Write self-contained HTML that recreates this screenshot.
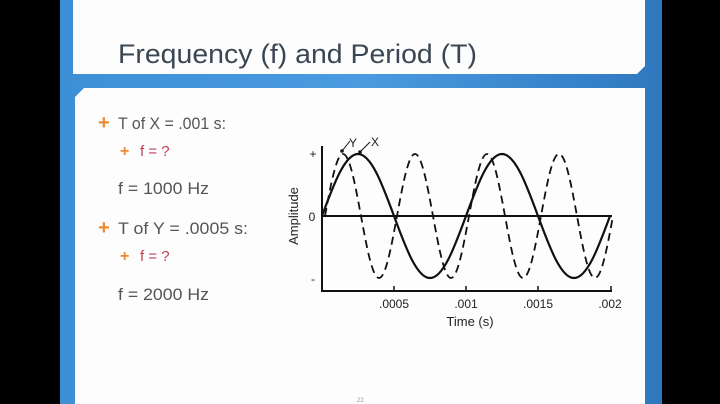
<!DOCTYPE html>
<html><head><meta charset="utf-8"><style>
html,body{margin:0;padding:0;background:#000;}
svg{display:block}
</style></head><body>
<svg width="720" height="404" viewBox="0 0 720 404" xmlns="http://www.w3.org/2000/svg" font-family="Liberation Sans, sans-serif">
<defs>
<linearGradient id="bg" x1="0" y1="0" x2="1" y2="0">
<stop offset="0" stop-color="#3d8fd6"/><stop offset="0.5" stop-color="#4a9be0"/><stop offset="1" stop-color="#2f78c0"/>
</linearGradient>
</defs>
<rect x="0" y="0" width="720" height="404" fill="#000"/>
<rect x="60" y="0" width="602" height="404" fill="url(#bg)"/>
<path d="M73 0 H645 V66 L637 74 H73 Z" fill="#fdfdfd"/>
<path d="M84 88 H645 V404 H75 V97 Z" fill="#fdfdfd"/>
<text x="118" y="63" font-size="27" fill="#3b4654" textLength="359" lengthAdjust="spacingAndGlyphs">Frequency (f) and Period (T)</text>
<g font-size="17" fill="#555">
<text x="98" y="129" fill="#f08a30" font-size="20" font-weight="bold">+</text>
<text x="118" y="129" textLength="108" lengthAdjust="spacingAndGlyphs">T of X = .001 s:</text>
<text x="120" y="156" fill="#f08a30" font-size="16" font-weight="bold">+</text>
<text x="140" y="156" fill="#c0405a" font-size="15">f = ?</text>
<text x="118" y="194" textLength="91" lengthAdjust="spacingAndGlyphs">f = 1000 Hz</text>
<text x="98" y="234" fill="#f08a30" font-size="20" font-weight="bold">+</text>
<text x="118" y="234" textLength="130" lengthAdjust="spacingAndGlyphs">T of Y = .0005 s:</text>
<text x="120" y="261" fill="#f08a30" font-size="16" font-weight="bold">+</text>
<text x="140" y="261" fill="#c0405a" font-size="15">f = ?</text>
<text x="118" y="300" textLength="91" lengthAdjust="spacingAndGlyphs">f = 2000 Hz</text>
</g>
<text x="357" y="402" font-size="6" fill="#999">22</text>
<g stroke="#111" fill="none">
<path d="M322 146 V291 H612" stroke-width="2"/>
<path d="M322 216 H612" stroke-width="2"/>
<path d="M394 286 V291 M466 286 V291 M538 286 V291 M611 286 V291" stroke-width="1.5"/>
<path stroke-width="2.2" d="M322 216 C334 183.4 345 154 358 154 S382 183.4 394 216 S417 278 430 278 S454 248.6 466 216 S489 154 502 154 S526 183.4 538 216 S561 278 574 278 S598 248.6 610 216"/>
<path stroke-width="1.8" stroke-dasharray="8,5" d="M325 216 C331 183.4 336.5 154 343 154 S355 183.4 361 216 S372.5 278 379 278 S391 248.6 397 216 S408.5 154 415 154 S427 183.4 433 216 S444.5 278 451 278 S463 248.6 469 216 S480.5 154 487 154 S499 183.4 505 216 S516.5 278 523 278 S535 248.6 541 216 S552.5 154 559 154 S571 183.4 577 216 S588.5 278 595 278 S607 248.6 613 216"/>
<path d="M342 151 L350 141 M360 152 L370 142" stroke-width="1"/>
</g>
<circle cx="342" cy="151" r="1.8" fill="#111"/>
<circle cx="360" cy="152" r="1.8" fill="#111"/>
<g font-size="12" fill="#222" text-anchor="middle">
<text x="313" y="158">+</text>
<text x="312" y="221">0</text>
<text x="313" y="283">-</text>
<text x="353" y="147">Y</text>
<text x="375" y="146">X</text>
<text x="394" y="308">.0005</text>
<text x="466" y="308">.001</text>
<text x="538" y="308">.0015</text>
<text x="610" y="308">.002</text>
<text x="470" y="326" font-size="13">Time (s)</text>
<text transform="translate(298,216) rotate(-90)" font-size="13">Amplitude</text>
</g>
</svg>
</body></html>
